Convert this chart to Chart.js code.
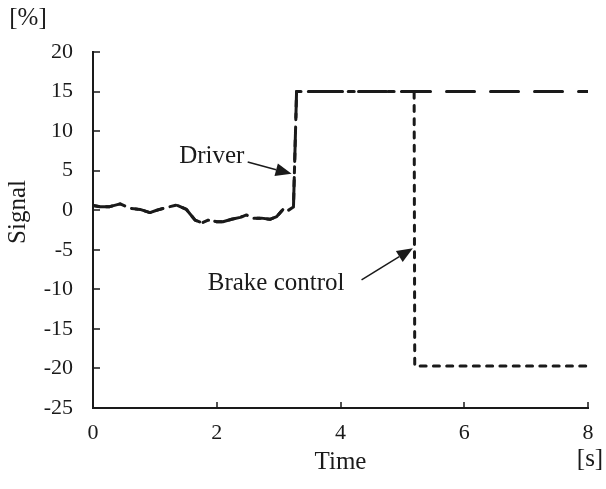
<!DOCTYPE html>
<html>
<head>
<meta charset="utf-8">
<script src="https://cdn.jsdelivr.net/npm/chart.js@4/dist/chart.umd.min.js"></script>
<style>
  body { margin: 0; background: #fff; }
  #wrap { width: 606px; height: 489px; }
</style>
</head>
<body>
<div id="wrap"><canvas id="myChart" width="606" height="489"></canvas></div>
<script>
// time [s] and signal [%] for the driver input
const driverTime = [0, 0.11, 0.27, 0.44, 0.6, 0.76, 0.92, 1.03, 1.19, 1.35, 1.51, 1.65, 1.76, 1.86, 2.0, 2.1,
    2.24, 2.38, 2.48, 2.59, 2.72, 2.86, 2.97, 3.07, 3.12, 3.22, 3.24, 3.29, 8];
const driverSignal = [0.6, 0.45, 0.45, 0.8, 0.25, 0.1, -0.3, 0, 0.35, 0.65, 0.1, -1.25, -1.6, -1.25, -1.45, -1.45,
    -1.15, -0.9, -0.6, -1.0, -1.0, -1.15, -0.8, 0.1, -0.2, 0.3, 0.4, 15, 15];

// brake controller output: follows the driver until it cuts in at 5.2 s
const brakeTime = [0, 0.11, 0.27, 0.44, 0.6, 0.76, 0.92, 1.03, 1.19, 1.35, 1.51, 1.65, 1.76, 1.86, 2.0, 2.1,
    2.24, 2.38, 2.48, 2.59, 2.72, 2.86, 2.97, 3.07, 3.12, 3.22, 3.24, 3.29, 5.19, 5.2, 8];
const brakeSignal = [0.6, 0.45, 0.45, 0.8, 0.25, 0.1, -0.3, 0, 0.35, 0.65, 0.1, -1.25, -1.6, -1.25, -1.45, -1.45,
    -1.15, -0.9, -0.6, -1.0, -1.0, -1.15, -0.8, 0.1, -0.2, 0.3, 0.4, 15, 15, -19.7, -19.7];

const xTicks = [0, 2, 4, 6, 8];
const yTicks = [20, 15, 10, 5, 0, -5, -10, -15, -20, -25];

// callouts: label, label position, arrow tail, arrow tip (data units)
const notes = [
    { text: 'Driver', at: [1.92, 6.8], from: [2.5, 6.1], to: [3.21, 4.6] },
    { text: 'Brake control', at: [2.96, -9.3], from: [4.34, -8.8], to: [5.17, -4.8] }
];

const serif = '"Liberation Serif", "Times New Roman", serif';
const ink = '#1a1a1a';

const toPoints = (xs, ys) => xs.map((x, i) => ({ x: x, y: ys[i] }));

const decorations = {
    id: 'decorations',
    afterDraw(chart) {
        const ctx = chart.ctx;
        const xs = chart.scales.x, ys = chart.scales.y;
        const area = chart.chartArea;
        ctx.save();

        // inward tick marks
        ctx.strokeStyle = ink;
        ctx.lineWidth = 1.5;
        ctx.beginPath();
        xTicks.forEach(v => {
            const px = Math.round(xs.getPixelForValue(v));
            ctx.moveTo(px, area.bottom);
            ctx.lineTo(px, area.bottom - 6);
        });
        yTicks.forEach(v => {
            const py = Math.round(ys.getPixelForValue(v));
            ctx.moveTo(area.left, py);
            ctx.lineTo(area.left + 7, py);
        });
        ctx.stroke();

        // axis titles and units
        ctx.fillStyle = ink;
        ctx.textAlign = 'center';
        ctx.textBaseline = 'middle';
        ctx.font = '25px ' + serif;
        ctx.fillText('Time', (area.left + area.right) / 2, 462);
        ctx.fillText('[s]', area.right + 2, 459);
        ctx.fillText('[%]', 28, 18);
        ctx.save();
        ctx.translate(18, 212);
        ctx.rotate(-Math.PI / 2);
        ctx.fillText('Signal', 0, 0);
        ctx.restore();

        // callout labels with arrows
        notes.forEach(n => {
            ctx.font = '25px ' + serif;
            ctx.fillText(n.text, xs.getPixelForValue(n.at[0]), ys.getPixelForValue(n.at[1]));
            const x0 = xs.getPixelForValue(n.from[0]), y0 = ys.getPixelForValue(n.from[1]);
            const x1 = xs.getPixelForValue(n.to[0]), y1 = ys.getPixelForValue(n.to[1]);
            const a = Math.atan2(y1 - y0, x1 - x0);
            const len = 16, half = 6.5;
            const bx = x1 - len * Math.cos(a), by = y1 - len * Math.sin(a);
            ctx.lineWidth = 1.5;
            ctx.beginPath();
            ctx.moveTo(x0, y0);
            ctx.lineTo(bx, by);
            ctx.stroke();
            ctx.beginPath();
            ctx.moveTo(x1, y1);
            ctx.lineTo(bx + half * Math.sin(a), by - half * Math.cos(a));
            ctx.lineTo(bx - half * Math.sin(a), by + half * Math.cos(a));
            ctx.closePath();
            ctx.fill();
        });
        ctx.restore();
    }
};

new Chart(document.getElementById('myChart'), {
    type: 'line',
    data: {
        datasets: [
            {
                label: 'Driver',
                data: toPoints(driverTime, driverSignal),
                borderColor: ink,
                borderWidth: 3,
                borderDash: [28, 16],
                borderCapStyle: 'round',
                borderJoinStyle: 'round',
                pointRadius: 0,
                tension: 0
            },
            {
                label: 'Brake control',
                data: toPoints(brakeTime, brakeSignal),
                borderColor: ink,
                borderWidth: 3,
                borderDash: [6, 7.3],
                borderCapStyle: 'round',
                borderJoinStyle: 'round',
                pointRadius: 0,
                tension: 0
            }
        ]
    },
    options: {
        responsive: false,
        animation: false,
        layout: { padding: { top: 52, right: 18, left: 0, bottom: 0 } },
        plugins: {
            legend: { display: false },
            tooltip: { enabled: false }
        },
        scales: {
            x: {
                type: 'linear',
                min: 0,
                max: 8,
                afterFit: s => { s.height = 81; },
                afterBuildTicks: s => { s.ticks = xTicks.map(v => ({ value: v })); },
                grid: { drawOnChartArea: false, drawTicks: false },
                border: { color: ink, width: 2 },
                ticks: { color: ink, padding: 12, maxRotation: 0, font: { family: serif, size: 22 } }
            },
            y: {
                type: 'linear',
                min: -25,
                max: 20,
                afterFit: s => { s.width = 93; },
                afterBuildTicks: s => { s.ticks = yTicks.map(v => ({ value: v })); },
                grid: { drawOnChartArea: false, drawTicks: false },
                border: { color: ink, width: 2 },
                ticks: { color: ink, padding: 20, font: { family: serif, size: 22 } }
            }
        }
    },
    plugins: [decorations]
});
</script>
</body>
</html>
